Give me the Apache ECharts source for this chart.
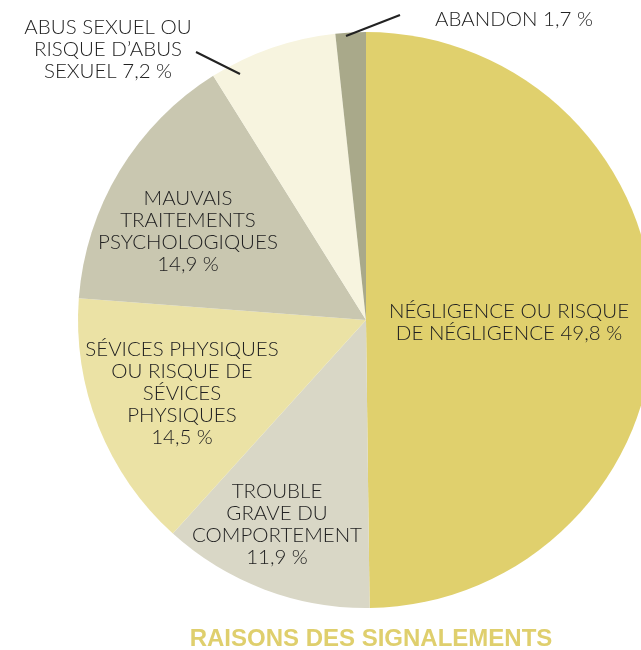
<!DOCTYPE html>
<html>
<head>
<meta charset="utf-8">
<script src="https://cdn.jsdelivr.net/npm/echarts@6/dist/echarts.min.js"></script>
<style>
  html, body { margin: 0; padding: 0; background: #fff; }
  #chart { width: 641px; height: 650px; }
</style>
</head>
<body>
<div id="chart"></div>
<script>
// reasons, clockwise from 12 o'clock
const reasons = [
  'NÉGLIGENCE OU RISQUE\nDE NÉGLIGENCE',
  'TROUBLE\nGRAVE DU\nCOMPORTEMENT',
  'SÉVICES PHYSIQUES\nOU RISQUE DE\nSÉVICES\nPHYSIQUES',
  'MAUVAIS\nTRAITEMENTS\nPSYCHOLOGIQUES',
  'ABUS SEXUEL OU\nRISQUE D’ABUS\nSEXUEL',
  'ABANDON'
]
const shares = [49.8, 11.9, 14.5, 14.9, 7.2, 1.7]
const valueSep = [' ', '\n', '\n', '\n', ' ', ' ']
const colors = ['#e0d06d', '#d9d7c6', '#ebe2a5', '#c9c7b0', '#f7f4df', '#a9a98a']

// where each label sits (centre), and leader line for the outside ones
const labelPos = [[509, 322], [277, 524], [182, 393], [188, 231], [108, 49], [514, 19]]
const leaders = [null, null, null, null, [[240, 74], [196, 52]], [[346, 36], [400, 15]]]

const chart = echarts.init(document.getElementById('chart'))

const pieBase = {
  type: 'pie',
  center: [366, 320],
  radius: 288,
  startAngle: 90,
  clockwise: true,
  silent: true
}

chart.setOption({
  animation: false,
  title: {
    text: 'RAISONS DES SIGNALEMENTS',
    left: 366,
    textAlign: 'center',
    top: 622,
    textStyle: {
      fontFamily: 'Liberation Sans',
      fontWeight: 'bold',
      fontSize: 24,
      color: '#dfcf6d'
    }
  },
  series: [
    // the slices
    Object.assign({}, pieBase, {
      z: 2,
      label: { show: false },
      labelLine: { show: false },
      data: reasons.map((r, i) => ({ name: r, value: shares[i], itemStyle: { color: colors[i] } }))
    }),
    // same pie, transparent, on top: carries the labels and leader lines
    Object.assign({}, pieBase, {
      z: 3,
      itemStyle: { color: 'rgba(0,0,0,0)' },
      label: {
        show: true,
        position: 'outside',
        overflow: 'none',
        width: 300,
        fontFamily: 'Lato',
        fontWeight: 300,
        fontSize: 20.5,
        lineHeight: 22,
        color: '#222',
        align: 'center',
        formatter: p => p.name + valueSep[p.dataIndex] + String(p.value).replace('.', ',') + ' %'
      },
      labelLine: { show: false, lineStyle: { color: '#222', width: 2 } },
      labelLayout: p => {
        const i = p.dataIndex
        const out = { x: labelPos[i][0], y: labelPos[i][1], align: 'center', verticalAlign: 'middle' }
        if (leaders[i]) out.labelLinePoints = [leaders[i][0], leaders[i][1], leaders[i][1]]
        return out
      },
      data: reasons.map((r, i) => ({
        name: r,
        value: shares[i],
        labelLine: { show: !!leaders[i] }
      }))
    })
  ]
})
</script>
</body>
</html>
